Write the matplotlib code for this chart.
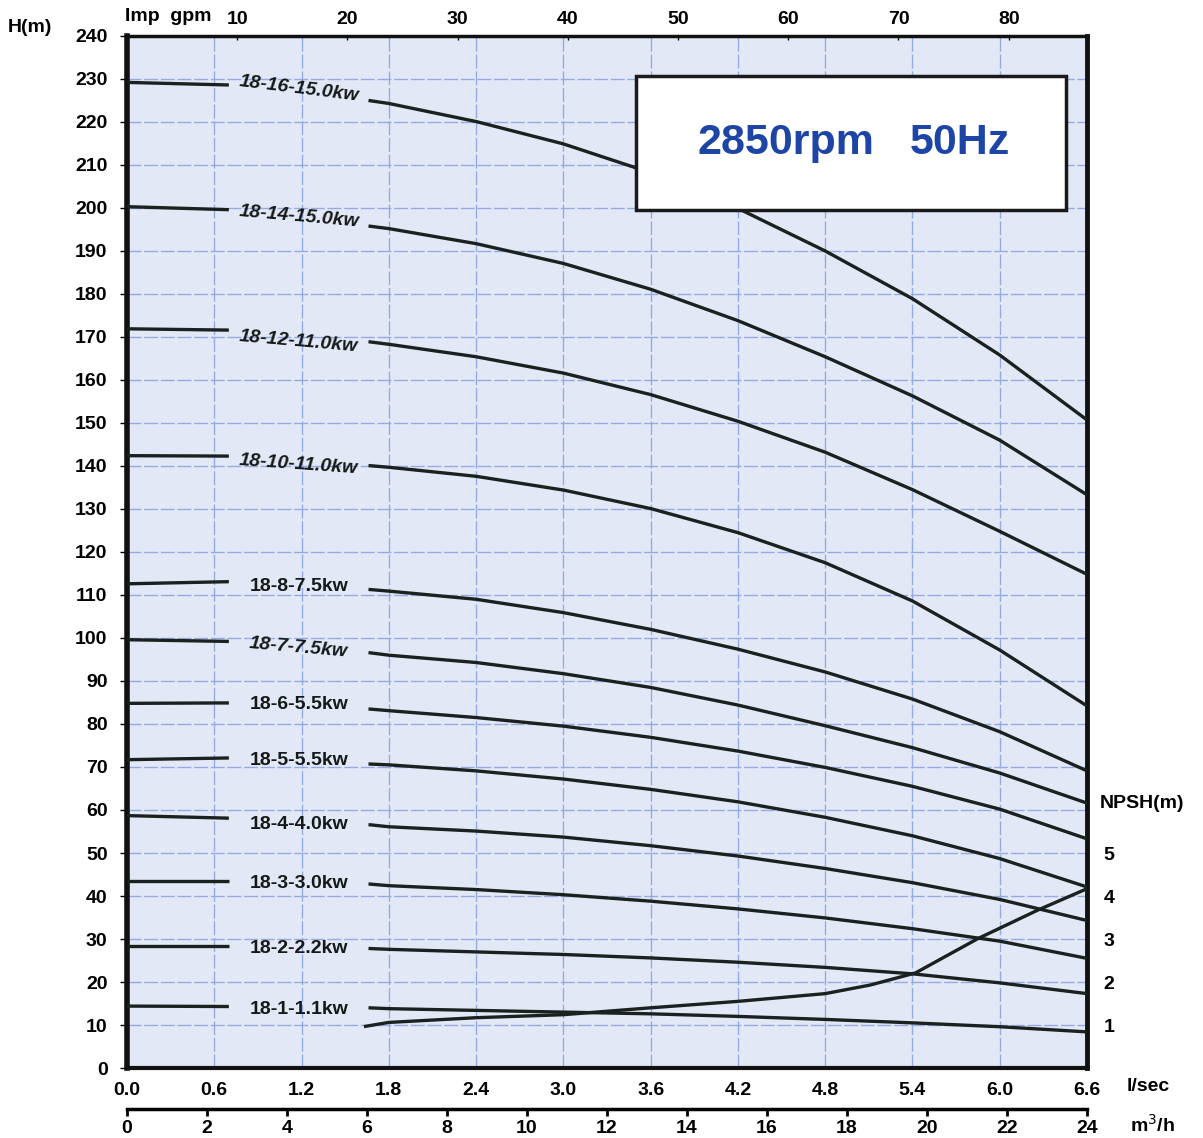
import matplotlib
matplotlib.use("Agg")
import matplotlib.pyplot as plt
from matplotlib.patches import Rectangle

plt.rcParams['font.family'] = ['Liberation Sans', 'DejaVu Sans']

# flow points (l/sec): short shut-off stub and main curve
q_flat = [0.0, 0.70]
q_curve = [1.66, 1.8, 2.4, 3.0, 3.6, 4.2, 4.8, 5.4, 6.0, 6.6]

models = ["18-16-15.0kw", "18-14-15.0kw", "18-12-11.0kw", "18-10-11.0kw",
          "18-8-7.5kw", "18-7-7.5kw", "18-6-5.5kw", "18-5-5.5kw",
          "18-4-4.0kw", "18-3-3.0kw", "18-2-2.2kw", "18-1-1.1kw"]

h_flat = [
    [229.2, 228.6], [200.3, 199.6], [171.9, 171.6], [142.4, 142.3],
    [112.6, 113.1], [99.6, 99.2], [84.8, 84.9], [71.7, 72.1],
    [58.7, 58.1], [43.4, 43.4], [28.3, 28.3], [14.4, 14.3],
]

h_16 = [225.0, 224.3, 220.1, 214.9, 208.2, 199.9, 190.0, 178.9, 165.8, 150.7]
h_14 = [195.8, 195.2, 191.7, 187.1, 181.1, 173.8, 165.4, 156.3, 146.0, 133.3]
h_12 = [168.9, 168.3, 165.4, 161.6, 156.6, 150.4, 143.2, 134.5, 124.8, 114.8]
h_10 = [140.1, 139.7, 137.6, 134.4, 130.1, 124.5, 117.5, 108.6, 97.2, 84.2]
h_8 = [111.3, 110.9, 109.0, 105.9, 102.0, 97.4, 92.1, 85.8, 78.2, 69.1]
h_7 = [96.6, 96.0, 94.3, 91.7, 88.5, 84.4, 79.6, 74.5, 68.6, 61.6]
h_6 = [83.5, 83.1, 81.5, 79.5, 76.9, 73.7, 69.9, 65.5, 60.2, 53.3]
h_5 = [70.7, 70.5, 69.1, 67.2, 64.8, 61.9, 58.3, 54.0, 48.7, 42.1]
h_4 = [56.6, 56.1, 55.1, 53.7, 51.7, 49.3, 46.4, 43.1, 39.2, 34.3]
h_3 = [42.8, 42.4, 41.5, 40.3, 38.8, 37.0, 34.9, 32.4, 29.5, 25.5]
h_2 = [27.8, 27.6, 27.0, 26.4, 25.6, 24.6, 23.4, 21.9, 19.8, 17.3]
h_1 = [14.0, 13.8, 13.4, 13.0, 12.6, 12.0, 11.3, 10.5, 9.6, 8.4]
h_curves = [h_16, h_14, h_12, h_10, h_8, h_7, h_6, h_5, h_4, h_3, h_2, h_1]

# label anchor heads and style
label_h = [227.6, 198.0, 169.0, 140.4, 112.0, 97.7, 84.5, 71.5, 56.6, 42.9, 27.8, 13.5]
label_rot = [-7, -5, -5, -4, 0, -5, 0, 0, 0, 0, 0, 0]
label_italic = [True, True, True, True, False, True, False, False, False, False, False, False]

q_npsh = [1.64, 1.8, 2.4, 3.0, 3.6, 4.2, 4.8, 5.11, 5.42, 5.85, 6.26, 6.6]
npsh = [0.97, 1.06, 1.17, 1.24, 1.40, 1.55, 1.73, 1.93, 2.21, 3.01, 3.67, 4.17]

lps_ticks = [0.0, 0.6, 1.2, 1.8, 2.4, 3.0, 3.6, 4.2, 4.8, 5.4, 6.0, 6.6]
gpm_ticks = [10, 20, 30, 40, 50, 60, 70, 80]
m3h_ticks = [0, 2, 4, 6, 8, 10, 12, 14, 16, 18, 20, 22, 24]
h_ticks = list(range(0, 241, 10))
npsh_ticks = [1, 2, 3, 4, 5]

LINE = '#1b211e'
BG = '#e3e8f6'
GRID = '#93abe2'

fig = plt.figure(figsize=(12.03, 11.38), dpi=100)
ax = fig.add_axes([0.1056, 0.0615, 0.798, 0.9069])
ax.set_facecolor(BG)
ax.set_xlim(0, 6.6)
ax.set_ylim(0, 240)

ax.set_xticks(lps_ticks)
ax.set_xticklabels([f"{v:.1f}" for v in lps_ticks])
ax.set_yticks(h_ticks)
ax.grid(True, color=GRID, linewidth=1.0, linestyle=(0, (10, 2)))
ax.set_axisbelow(True)
ax.tick_params(axis='x', length=0, pad=10, labelsize=14)
ax.tick_params(axis='y', length=5, width=1, pad=9, labelsize=14, direction='out')
for lab in ax.get_xticklabels() + ax.get_yticklabels():
    lab.set_fontweight('bold')

for side, lw in [('left', 4.0), ('bottom', 3.0), ('right', 3.5), ('top', 2.5)]:
    ax.spines[side].set_linewidth(lw)
    ax.spines[side].set_color('#111111')

for name, hf, hc, lh, rot, it in zip(models, h_flat, h_curves, label_h, label_rot, label_italic):
    ax.plot(q_flat, hf, color=LINE, lw=2.4, solid_capstyle='butt', zorder=3)
    ax.plot(q_curve, hc, color=LINE, lw=2.4, solid_capstyle='butt', zorder=3)
    ax.text(1.18, lh, name, ha='center', va='center', fontsize=14, fontweight='bold',
            fontstyle='italic' if it else 'normal', rotation=rot, color='#151a18', zorder=4)

# NPSH on right scale
ax2 = ax.twinx()
ax2.set_ylim(0, 24)
ax2.set_yticks(npsh_ticks)
ax2.tick_params(axis='y', length=0, pad=12, labelsize=14)
for lab in ax2.get_yticklabels():
    lab.set_fontweight('bold')
for s in ax2.spines.values():
    s.set_visible(False)
ax2.plot(q_npsh, npsh, color=LINE, lw=2.4, zorder=3)
ax2.text(1.013, 6.15, "NPSH(m)", transform=ax2.get_yaxis_transform(), ha='left',
         va='center', fontsize=14, fontweight='bold')

# top Imp gpm scale
gpm_per_lps = 13.198
top = ax.secondary_xaxis('top', functions=(lambda q: q * gpm_per_lps, lambda g: g / gpm_per_lps))
top.set_xticks(gpm_ticks)
top.tick_params(length=3, width=1, pad=6, labelsize=14, direction='in')
for lab in top.get_xticklabels():
    lab.set_fontweight('bold')
top.spines['top'].set_visible(False)
ax.text(-0.002, 1.019, "Imp  gpm", transform=ax.transAxes, ha='left', va='center',
        fontsize=14, fontweight='bold')

# bottom m3/h scale
m3h_per_lps = 24 / 6.6
bot = ax.secondary_xaxis(-0.040, functions=(lambda q: q * m3h_per_lps, lambda m: m / m3h_per_lps))
bot.set_xticks(m3h_ticks)
bot.tick_params(length=5, width=2, pad=3, labelsize=14)
for lab in bot.get_xticklabels():
    lab.set_fontweight('bold')
bot.spines['bottom'].set_linewidth(2.5)

ax.text(1.041, -0.018, "l/sec", transform=ax.transAxes, ha='left', va='center',
        fontsize=14, fontweight='bold')
ax.text(1.045, -0.055, "m$^3$/h", transform=ax.transAxes, ha='left', va='center',
        fontsize=14, fontweight='bold')
ax.text(-0.124, 1.008, "H(m)", transform=ax.transAxes, ha='left', va='center',
        fontsize=14, fontweight='bold')

# speed box
box = Rectangle((0.530, 0.8314), 0.448, 0.1298, transform=ax.transAxes, facecolor='white',
                edgecolor='#1a1a1a', linewidth=2.5, zorder=6)
ax.add_patch(box)
for txt, xc in [("2850rpm", 0.6865), ("50Hz", 0.8677)]:
    ax.text(xc, 0.8963, txt, transform=ax.transAxes, ha='center', va='center',
            fontsize=31, fontweight='bold', color='#1d45a6', zorder=7)

fig.savefig("out.png", dpi=100, facecolor='white')
